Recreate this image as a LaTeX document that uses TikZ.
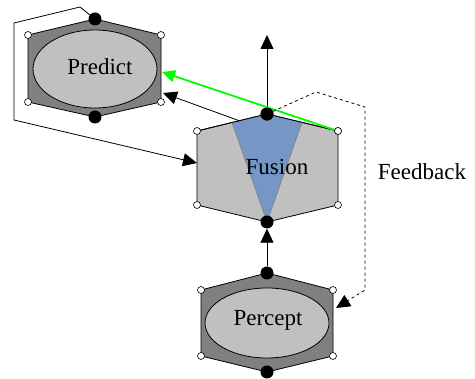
\documentclass[tikz,border=0pt]{standalone}
\usepackage{fontspec}
\setmainfont{Liberation Serif}
\usepackage{tikz}
\usetikzlibrary{calc}
\usetikzlibrary{arrows.meta}
\usetikzlibrary{positioning}
\definecolor{hexdark}{RGB}{128,128,128}
\definecolor{hexlight}{RGB}{192,192,192}
\definecolor{wedgeblue}{RGB}{118,150,198}
\definecolor{linkgreen}{RGB}{0,255,0}
\tikzset{>={Triangle[length=14pt,width=13pt]}}
\tikzset{corner/.style = {circle, draw, fill=white, inner sep=0, minimum size=7pt, line width=0.6pt}}
\tikzset{port/.style = {circle, fill=black, inner sep=0, minimum size=13pt}}
\tikzset{label/.style = {draw = none, inner sep = 0, anchor=base, font=\fontsize{23}{27}\selectfont}}
\tikzset{edge/.style = {line width=0.8pt}}

\begin{document}
\begin{tikzpicture}[x=1pt, y=-1pt]
\useasboundingbox (0,0) rectangle (475,379);
% Predict
\draw [edge, fill=hexdark] (28,35) -- (95,19) -- (161,35) -- (161,102) -- (95,117) -- (28,102) -- cycle;
\draw [edge, fill=hexlight] (95,69) ellipse [x radius=62, y radius=39];
\node [label] (P) at (100,75) {Predict};
\node [port] (Ptop) at (95,19) {};
\node [port] (Pbot) at (95,117) {};
\foreach \p in {(28,35),(161,35),(161,102),(28,102)} \node [corner] at \p {};
% Fusion
\draw [edge, fill=hexlight] (197,131) -- (267,114) -- (338,131) -- (338,205) -- (267,222) -- (197,205) -- cycle;
\draw [fill=wedgeblue, draw=gray, line width=0.6pt] (232,122.5) -- (267,114) -- (302,122.5) -- (267,222) -- cycle;
\draw [edge] (197,131) -- (267,114) -- (338,131);
\node [label] (F) at (277,175) {Fusion};
\node [port] (Ftop) at (267,114) {};
\node [port] (Fbot) at (267,222) {};
\node [corner] (Ftr) at (338,131) {};
\foreach \p in {(197,131),(338,205),(197,205)} \node [corner] at \p {};
% Percept
\draw [edge, fill=hexdark] (201,290) -- (267,273) -- (333,290) -- (333,356) -- (267,372) -- (201,356) -- cycle;
\draw [edge, fill=hexlight] (267,323) ellipse [x radius=62, y radius=35];
\node [label] (R) at (268,326) {Percept};
\node [port] (Rtop) at (267,273) {};
\node [port] (Rbot) at (267,372) {};
\foreach \p in {(201,290),(333,290),(333,356),(201,356)} \node [corner] at \p {};
\node [label] (fb) at (422,180) {Feedback};
% ends of the links
\coordinate (up) at (267,35);
\coordinate (Pgreen) at (162,72);
\coordinate (Pblack) at (163,93);
\coordinate (Fblack) at (240,121);
\coordinate (Fleft) at (197,163);
\coordinate (Rright) at (336,308);
% links
\draw [edge, ->] (Ftop) -- (up);
\draw [edge, ->] (Rtop) -- (Fbot);
\draw [edge, ->] (Fblack) -- (Pblack);
\draw [line width=1.8pt, draw=linkgreen, -{Triangle[length=13pt,width=12pt]}] (Ftr) -- (Pgreen);
\draw [edge, dashed, ->] (Ftop) -- (316,92) -- (365,107) -- (365,290) -- (Rright);
\draw [edge, ->] (Ptop) -- (80,7) -- (14,23) -- (14,120) -- (Fleft);
\node [port] at (Ftop) {};
\node [corner] at (Ftr) {};
\end{tikzpicture}
\end{document}
